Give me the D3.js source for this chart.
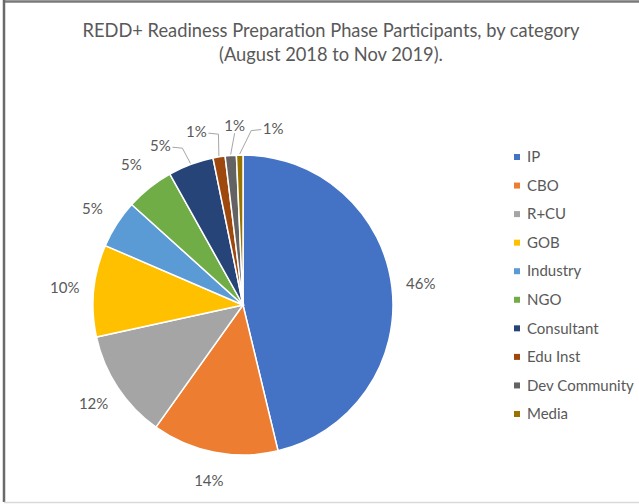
<!DOCTYPE html>
<html>
<head>
<meta charset="utf-8">
<script src="https://cdn.jsdelivr.net/npm/d3@7"></script>
<style>
  body { margin: 0; background: #fff; }
</style>
</head>
<body>
<div id="chart"></div>
<script>
// Participants by category, share of total (%)
const categories = ['IP', 'CBO', 'R+CU', 'GOB', 'Industry', 'NGO', 'Consultant', 'Edu Inst', 'Dev Community', 'Media']
const shares = [46.2, 13.6, 11.7, 9.9, 5.2, 5.2, 4.9, 1.3, 1.2, 0.7]
const colours = ['#4472C4', '#ED7D31', '#A5A5A5', '#FFC000', '#5B9BD5', '#70AD47', '#264478', '#9E480E', '#636363', '#997300']
const titleLines = ['REDD+ Readiness Preparation Phase Participants, by category', '(August 2018 to Nov 2019).']

const width = 639
const height = 504
const radius = 150
const cx = 243
const cy = 305
const labelRadius = 179
const minSep = 12.4 * Math.PI / 180

const data = categories.map((c, i) => ({label: c, value: shares[i], fill: colours[i]}))
const total = d3.sum(shares)
const fmt = d3.format('.0%')

const svg = d3.select('#chart')
  .append('svg')
  .attr('width', width)
  .attr('height', height)
  .style('font-family', 'Lato, "Open Sans", sans-serif')

// Chart frame (right edge runs off the picture)
svg.append('line').attr('x1', 4).attr('x2', width).attr('y1', 1.5).attr('y2', 1.5)
  .style('stroke', '#7a7a7a').style('stroke-width', 2.5)
svg.append('line').attr('x1', 4).attr('x2', 4).attr('y1', 0).attr('y2', 502)
  .style('stroke', '#6a6a6a').style('stroke-width', 2.5)
svg.append('line').attr('x1', 4).attr('x2', width).attr('y1', 502.5).attr('y2', 502.5)
  .style('stroke', '#d9d9d9').style('stroke-width', 1.5)

// Title
svg.append('text')
  .attr('x', 331)
  .attr('y', 37)
  .style('text-anchor', 'middle')
  .style('font-size', '18.3px')
  .style('fill', '#595959')
  .selectAll('tspan')
  .data(titleLines)
  .join('tspan')
  .attr('x', 331)
  .attr('dy', (d, i) => i ? 24 : 0)
  .text(d => d)

const pie = d3.pie().sort(null).value(d => d.value)
const arcs = pie(data)
const arc = d3.arc().innerRadius(0).outerRadius(radius)

const gChart = svg.append('g')
  .attr('transform', `translate(${cx},${cy})`)

gChart.selectAll('.slice')
  .data(arcs)
  .join('path')
  .attr('class', 'slice')
  .attr('d', arc)
  .style('fill', d => d.data.fill)
  .style('stroke', '#fff')
  .style('stroke-width', 1.5)

// Label angles: mid angle, small neighbouring slices spread apart
arcs.forEach(d => { d.mid = (d.startAngle + d.endAngle) / 2; d.labelAngle = d.mid })
let groups = [[arcs[0]]]
for (let i = 1; i < arcs.length; i++) {
  const last = groups[groups.length - 1]
  if (arcs[i].mid - last[last.length - 1].mid < minSep) last.push(arcs[i])
  else groups.push([arcs[i]])
}
groups.filter(g => g.length > 1).forEach(g => {
  const mean = d3.mean(g, d => d.mid)
  g.forEach((d, i) => {
    d.labelAngle = mean + (i - (g.length - 1) / 2) * minSep
    d.leader = true
  })
})

const pt = (a, r) => [Math.sin(a) * r, -Math.cos(a) * r]

// Leader lines
gChart.selectAll('.leader')
  .data(arcs.filter(d => d.leader))
  .join('polyline')
  .attr('class', 'leader')
  .attr('points', d => {
    const p0 = pt(d.mid, radius + 1)
    const lp = pt(d.labelAngle, labelRadius)
    const side = Math.sin(d.labelAngle) < -0.15 ? -1 : (Math.sin(d.labelAngle) > 0.1 ? 1 : 0)
    if (side === 0) return [p0, [lp[0], lp[1] + 7]].join(' ')
    const pe = [lp[0] - side * 12, lp[1] + 1]
    const pk = [pe[0] - side * 10, pe[1] + 1]
    return [p0, pk, pe].join(' ')
  })
  .style('fill', 'none')
  .style('stroke', '#a6a6a6')
  .style('stroke-width', 1)

gChart.selectAll('.sliceLabel')
  .data(arcs)
  .join('text')
  .attr('class', 'sliceLabel')
  .attr('x', d => pt(d.labelAngle, labelRadius)[0])
  .attr('y', d => pt(d.labelAngle, labelRadius)[1])
  .attr('dy', '0.35em')
  .style('text-anchor', 'middle')
  .style('font-size', '15px')
  .style('fill', '#595959')
  .text(d => fmt(d.data.value / total))

// Legend
const yLegend = d3.scalePoint().domain(categories).range([157, 414])
const gLegend = svg.append('g')
gLegend.selectAll('rect')
  .data(data)
  .join('rect')
  .attr('x', 514)
  .attr('y', d => yLegend(d.label) - 3)
  .attr('width', 6)
  .attr('height', 6)
  .style('fill', d => d.fill)
gLegend.selectAll('text')
  .data(data)
  .join('text')
  .attr('x', 527)
  .attr('y', d => yLegend(d.label))
  .attr('dy', '0.35em')
  .style('font-size', '15px')
  .style('fill', '#595959')
  .text(d => d.label)
</script>
</body>
</html>
